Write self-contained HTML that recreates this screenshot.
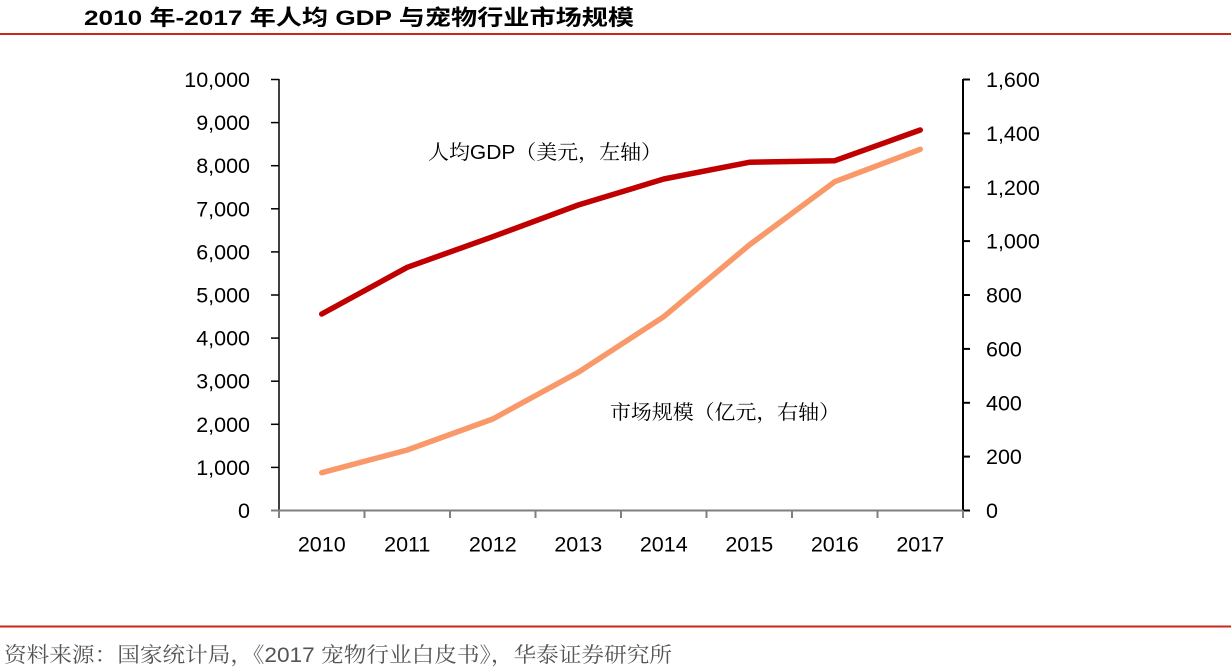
<!DOCTYPE html>
<html><head><meta charset="utf-8"><style>
html,body{margin:0;padding:0;background:#fff;}
svg{display:block;}
.cjks{font-family:"Liberation Serif","Noto Serif CJK SC","Noto Serif CJK TC",serif;}
.lat{font-family:"Liberation Sans",sans-serif;}
</style></head><body>
<svg width="1231" height="668" viewBox="0 0 1231 668" xmlns="http://www.w3.org/2000/svg">
<rect width="1231" height="668" fill="#fff"/>
<!-- title -->
<text x="84" y="25" style="font-family:'Liberation Sans','Noto Sans CJK SC',sans-serif;font-weight:bold;font-size:21.5px" fill="#000" textLength="550" lengthAdjust="spacingAndGlyphs">2010 年-2017 年人均 GDP 与宠物行业市场规模</text>
<rect x="0" y="33" width="1231" height="2" fill="#C8281E"/>
<!-- footer -->
<rect x="0" y="625.5" width="1231" height="2" fill="#C8281E"/>
<text x="4" y="662" class="cjks" style="font-size:21px" fill="#555" textLength="668" lengthAdjust="spacingAndGlyphs">资料来源：国家统计局，《<tspan class="lat">2017 </tspan>宠物行业白皮书》，华泰证券研究所</text>

<!-- axes -->
<g stroke="#000" stroke-width="1.5">
<line x1="279" y1="79" x2="279" y2="511"/>
<line x1="271" y1="79.5" x2="279" y2="79.5"/>
<line x1="271" y1="122.6" x2="279" y2="122.6"/>
<line x1="271" y1="165.7" x2="279" y2="165.7"/>
<line x1="271" y1="208.8" x2="279" y2="208.8"/>
<line x1="271" y1="251.9" x2="279" y2="251.9"/>
<line x1="271" y1="295" x2="279" y2="295"/>
<line x1="271" y1="338.1" x2="279" y2="338.1"/>
<line x1="271" y1="381.2" x2="279" y2="381.2"/>
<line x1="271" y1="424.3" x2="279" y2="424.3"/>
<line x1="271" y1="467.4" x2="279" y2="467.4"/>
</g>
<g stroke="#000" stroke-width="2">
<line x1="963" y1="79" x2="963" y2="511"/>
<line x1="963" y1="79.5" x2="970" y2="79.5"/>
<line x1="963" y1="133.4" x2="970" y2="133.4"/>
<line x1="963" y1="187.3" x2="970" y2="187.3"/>
<line x1="963" y1="241.1" x2="970" y2="241.1"/>
<line x1="963" y1="295" x2="970" y2="295"/>
<line x1="963" y1="348.9" x2="970" y2="348.9"/>
<line x1="963" y1="402.8" x2="970" y2="402.8"/>
<line x1="963" y1="456.6" x2="970" y2="456.6"/>
<line x1="963" y1="510.5" x2="970" y2="510.5"/>
</g>
<g stroke="#7f7f7f" stroke-width="2">
<line x1="271" y1="510.5" x2="963" y2="510.5"/>
<line x1="279" y1="510.5" x2="279" y2="518"/>
<line x1="364.5" y1="510.5" x2="364.5" y2="518"/>
<line x1="450" y1="510.5" x2="450" y2="518"/>
<line x1="535.5" y1="510.5" x2="535.5" y2="518"/>
<line x1="621" y1="510.5" x2="621" y2="518"/>
<line x1="706.5" y1="510.5" x2="706.5" y2="518"/>
<line x1="792" y1="510.5" x2="792" y2="518"/>
<line x1="877.5" y1="510.5" x2="877.5" y2="518"/>
<line x1="963" y1="510.5" x2="963" y2="518"/>
</g>

<!-- left labels -->
<g style="font-family:'Liberation Sans',sans-serif;font-size:21.5px" fill="#000" text-anchor="end">
<text x="250" y="87">10,000</text>
<text x="250" y="130.1">9,000</text>
<text x="250" y="173.2">8,000</text>
<text x="250" y="216.3">7,000</text>
<text x="250" y="259.4">6,000</text>
<text x="250" y="302.5">5,000</text>
<text x="250" y="345.6">4,000</text>
<text x="250" y="388.7">3,000</text>
<text x="250" y="431.8">2,000</text>
<text x="250" y="474.9">1,000</text>
<text x="250" y="518">0</text>
</g>
<!-- right labels -->
<g style="font-family:'Liberation Sans',sans-serif;font-size:21.5px" fill="#000" text-anchor="start">
<text x="986" y="87">1,600</text>
<text x="986" y="140.9">1,400</text>
<text x="986" y="194.8">1,200</text>
<text x="986" y="248.6">1,000</text>
<text x="986" y="302.5">800</text>
<text x="986" y="356.4">600</text>
<text x="986" y="410.3">400</text>
<text x="986" y="464.1">200</text>
<text x="986" y="518">0</text>
</g>
<!-- x labels -->
<g style="font-family:'Liberation Sans',sans-serif;font-size:21.5px" fill="#000" text-anchor="middle">
<text x="321.75" y="551.5">2010</text>
<text x="407.25" y="551.5">2011</text>
<text x="492.75" y="551.5">2012</text>
<text x="578.25" y="551.5">2013</text>
<text x="663.75" y="551.5">2014</text>
<text x="749.25" y="551.5">2015</text>
<text x="834.75" y="551.5">2016</text>
<text x="920.25" y="551.5">2017</text>
</g>

<!-- series -->
<polyline fill="none" stroke="#F9996A" stroke-width="5.5" stroke-linecap="round" stroke-linejoin="round"
 points="321.75,472.7 407.25,450 492.75,419 578.25,372.3 663.75,316.7 749.25,245 834.75,181.7 920.25,149.3"/>
<polyline fill="none" stroke="#C00000" stroke-width="5.5" stroke-linecap="round" stroke-linejoin="round"
 points="321.75,314 407.25,267.3 492.75,236.7 578.25,205 663.75,179 749.25,162.3 834.75,160.7 920.25,130"/>

<!-- annotations -->
<text x="428" y="159" class="cjks" style="font-size:20px" fill="#000" textLength="234" lengthAdjust="spacingAndGlyphs">人均<tspan class="lat">GDP</tspan>（美元，左轴）</text>
<text x="610" y="419" class="cjks" style="font-size:20px" fill="#000" textLength="230" lengthAdjust="spacingAndGlyphs">市场规模（亿元，右轴）</text>
</svg>
</body></html>
